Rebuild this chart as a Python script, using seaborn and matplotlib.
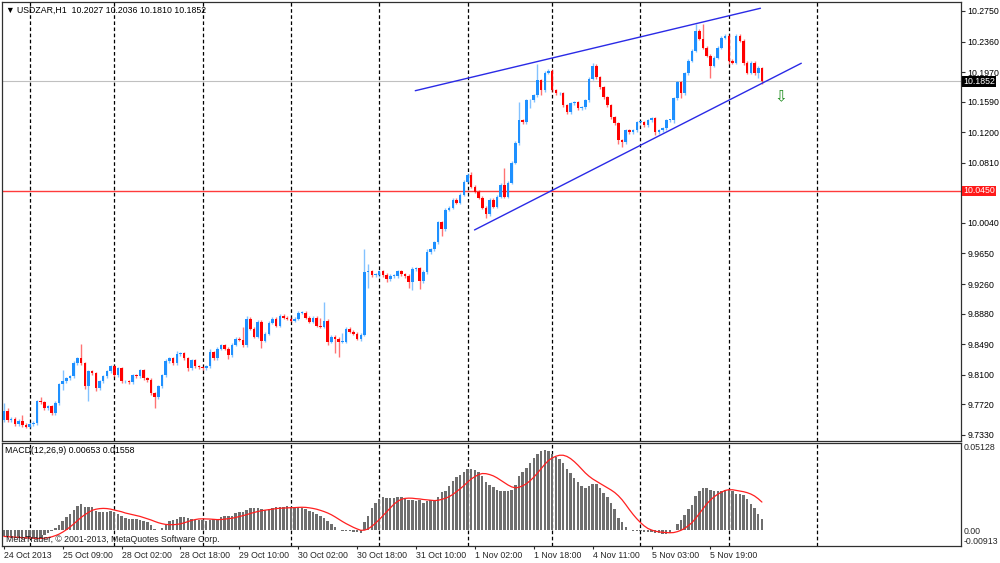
import numpy as np
import pandas as pd
import matplotlib
matplotlib.use("Agg")
import matplotlib.pyplot as plt
import matplotlib.transforms as mtransforms
import seaborn as sns

# USDZAR H1 closes, 24 Oct 2013 17:00 .. 6 Nov 2013 09:00
close = [
    9.7636, 9.7522, 9.7535, 9.7471, 9.7509, 9.7458, 9.7433, 9.7471, 9.7484, 9.7763,
    9.7750, 9.7674, 9.7699, 9.7611, 9.7738, 9.7979, 9.8017, 9.8055, 9.8080, 9.8245,
    9.8309, 9.8245, 9.7953, 9.8144, 9.8118, 9.7928, 9.8017, 9.8080, 9.8144, 9.8207,
    9.8093, 9.8182, 9.8017, 9.8017, 9.8004, 9.8093, 9.8080, 9.8156, 9.8055, 9.8029,
    9.7864, 9.7814, 9.7953, 9.8093, 9.8271, 9.8309, 9.8245, 9.8359, 9.8372, 9.8309,
    9.8182, 9.8283, 9.8207, 9.8194, 9.8182, 9.8207, 9.8385, 9.8309, 9.8435, 9.8474,
    9.8435, 9.8347, 9.8486, 9.8562, 9.8550, 9.8474, 9.8816, 9.8689, 9.8588, 9.8778,
    9.8537, 9.8626, 9.8765, 9.8816, 9.8727, 9.8854, 9.8829, 9.8816, 9.8791, 9.8816,
    9.8892, 9.8892, 9.8829, 9.8778, 9.8829, 9.8727, 9.8715, 9.8791, 9.8524, 9.8588,
    9.8562, 9.8524, 9.8524, 9.8689, 9.8651, 9.8626, 9.8562, 9.8613, 9.9413, 9.9425,
    9.9375, 9.9375, 9.9425, 9.9375, 9.9324, 9.9362, 9.9362, 9.9425, 9.9387, 9.9362,
    9.9286, 9.9451, 9.9463, 9.9298, 9.9413, 9.9666, 9.9704, 9.9793, 10.0047, 9.9958,
    10.0212, 10.0237, 10.0339, 10.0301, 10.0402, 10.0567, 10.0656, 10.0504, 10.0441, 10.0364,
    10.0237, 10.0149, 10.0339, 10.0250, 10.0377, 10.0529, 10.0377, 10.0555, 10.0809, 10.1062,
    10.1354, 10.1329, 10.1608, 10.1608, 10.1671, 10.1862, 10.1735, 10.1963, 10.1988, 10.1735,
    10.1697, 10.1697, 10.1545, 10.1456, 10.1570, 10.1583, 10.1506, 10.1519, 10.1608, 10.1887,
    10.2052, 10.1900, 10.1773, 10.1646, 10.1545, 10.1392, 10.1316, 10.1100, 10.1075, 10.1227,
    10.1202, 10.1227, 10.1329, 10.1329, 10.1291, 10.1354, 10.1380, 10.1202, 10.1227, 10.1253,
    10.1354, 10.1354, 10.1633, 10.1836, 10.1697, 10.1951, 10.2116, 10.2242, 10.2496, 10.2395,
    10.2281, 10.2179, 10.2052, 10.2154, 10.2281, 10.2407, 10.2433, 10.2116, 10.2090, 10.2433,
    10.2369, 10.2090, 10.1963, 10.2090, 10.1951, 10.2027, 10.1852,
]
first_open = 9.7520

# wick lengths above / below the body, in units of 0.001
upper_wick = [
    10, 4, 2, 2, 2, 7, 2, 2, 2, 2,
    5, 2, 2, 2, 2, 2, 15, 2, 2, 3,
    2, 19, 2, 2, 2, 2, 2, 2, 2, 2,
    2, 2, 2, 2, 2, 2, 2, 2, 2, 2,
    3, 2, 2, 2, 3, 2, 2, 5, 2, 2,
    2, 2, 2, 2, 2, 2, 4, 2, 2, 2,
    2, 2, 2, 2, 2, 16, 4, 2, 2, 2,
    2, 2, 2, 2, 2, 2, 2, 2, 2, 2,
    2, 2, 2, 2, 2, 2, 10, 24, 2, 2,
    2, 2, 11, 2, 2, 2, 2, 2, 30, 9,
    2, 2, 2, 2, 2, 2, 2, 2, 2, 2,
    2, 2, 2, 2, 2, 4, 2, 2, 2, 2,
    2, 2, 2, 2, 2, 2, 2, 4, 2, 2,
    2, 2, 2, 2, 2, 2, 21, 2, 2, 2,
    23, 2, 2, 2, 2, 21, 2, 2, 2, 2,
    2, 2, 2, 2, 2, 2, 2, 2, 2, 2,
    3, 2, 2, 2, 2, 2, 2, 2, 2, 2,
    2, 2, 2, 2, 2, 2, 2, 2, 2, 2,
    2, 2, 2, 2, 2, 2, 2, 2, 9, 2,
    19, 2, 2, 2, 2, 2, 2, 2, 2, 2,
    2, 2, 2, 2, 2, 2, 1,
]
lower_wick = [
    2, 2, 2, 2, 2, 2, 2, 2, 2, 3,
    2, 2, 2, 2, 2, 3, 8, 2, 2, 2,
    2, 2, 3, 19, 2, 3, 2, 2, 2, 2,
    2, 2, 2, 2, 2, 2, 2, 2, 2, 2,
    2, 14, 2, 2, 2, 2, 2, 2, 2, 2,
    4, 2, 2, 2, 2, 2, 2, 2, 2, 2,
    2, 5, 2, 2, 2, 2, 2, 2, 2, 2,
    10, 2, 2, 2, 2, 2, 2, 2, 2, 2,
    2, 2, 2, 2, 2, 2, 2, 2, 5, 2,
    19, 20, 2, 2, 2, 2, 2, 3, 2, 20,
    2, 2, 2, 2, 4, 2, 2, 2, 2, 2,
    8, 10, 2, 10, 2, 2, 2, 2, 2, 9,
    2, 2, 2, 2, 2, 2, 2, 2, 2, 2,
    2, 5, 2, 2, 2, 2, 2, 2, 2, 2,
    2, 2, 2, 10, 2, 2, 6, 2, 2, 2,
    2, 2, 2, 2, 2, 2, 2, 2, 2, 2,
    2, 2, 2, 2, 2, 2, 2, 5, 6, 2,
    2, 2, 2, 2, 2, 2, 2, 4, 2, 2,
    2, 2, 4, 2, 6, 2, 2, 2, 2, 2,
    2, 2, 16, 2, 2, 2, 2, 4, 2, 2,
    2, 3, 2, 2, 2, 6, 4,
]

# MACD(12,26,9) main line (histogram)
macd = [
    -0.0035, -0.0038, -0.0042, -0.0044, -0.0046, -0.0048, -0.0050, -0.0050, -0.0050, -0.0050,
    -0.0042, -0.0029, -0.0015, -0.0004, 0.0015, 0.0029, 0.0058, 0.0077, 0.0096, 0.0119,
    0.0144, 0.0154, 0.0138, 0.0138, 0.0138, 0.0115, 0.0109, 0.0109, 0.0109, 0.0115,
    0.0109, 0.0096, 0.0086, 0.0073, 0.0067, 0.0067, 0.0067, 0.0061, 0.0054, 0.0048,
    0.0029, 0.0010, 0.0004, 0.0015, 0.0029, 0.0054, 0.0061, 0.0067, 0.0081, 0.0081,
    0.0073, 0.0067, 0.0061, 0.0061, 0.0061, 0.0054, 0.0061, 0.0067, 0.0067, 0.0077,
    0.0086, 0.0086, 0.0086, 0.0100, 0.0106, 0.0106, 0.0119, 0.0131, 0.0131, 0.0134,
    0.0125, 0.0119, 0.0125, 0.0131, 0.0138, 0.0138, 0.0138, 0.0144, 0.0138, 0.0134,
    0.0131, 0.0131, 0.0125, 0.0115, 0.0106, 0.0096, 0.0086, 0.0073, 0.0058, 0.0038,
    0.0019, 0.0000, -0.0004, -0.0006, -0.0006, -0.0010, -0.0010, -0.0015, 0.0048, 0.0086,
    0.0134, 0.0163, 0.0182, 0.0196, 0.0192, 0.0192, 0.0192, 0.0196, 0.0196, 0.0182,
    0.0177, 0.0177, 0.0173, 0.0177, 0.0163, 0.0173, 0.0177, 0.0177, 0.0196, 0.0227,
    0.0234, 0.0259, 0.0292, 0.0313, 0.0323, 0.0342, 0.0361, 0.0363, 0.0353, 0.0340,
    0.0317, 0.0284, 0.0267, 0.0253, 0.0240, 0.0234, 0.0234, 0.0230, 0.0240, 0.0265,
    0.0317, 0.0342, 0.0365, 0.0394, 0.0422, 0.0451, 0.0465, 0.0470, 0.0465, 0.0451,
    0.0432, 0.0419, 0.0394, 0.0361, 0.0336, 0.0307, 0.0284, 0.0259, 0.0246, 0.0259,
    0.0273, 0.0273, 0.0246, 0.0221, 0.0196, 0.0163, 0.0125, 0.0073, 0.0048, 0.0019,
    0.0004, -0.0006, -0.0006, -0.0006, -0.0010, -0.0010, -0.0010, -0.0015, -0.0015, -0.0023,
    -0.0019, -0.0015, 0.0004, 0.0038, 0.0061, 0.0092, 0.0125, 0.0150, 0.0202, 0.0234,
    0.0246, 0.0250, 0.0240, 0.0234, 0.0230, 0.0234, 0.0240, 0.0240, 0.0234, 0.0211,
    0.0215, 0.0207, 0.0182, 0.0157, 0.0131, 0.0096, 0.0065,
]
signal_period = 9

date_labels = ["24 Oct 2013", "25 Oct 09:00", "28 Oct 02:00", "28 Oct 18:00",
               "29 Oct 10:00", "30 Oct 02:00", "30 Oct 18:00", "31 Oct 10:00",
               "1 Nov 02:00", "1 Nov 18:00", "4 Nov 11:00", "5 Nov 03:00",
               "5 Nov 19:00"]
label_step = 16
day_starts = [7, 30, 54, 78, 102, 126, 149, 173, 197, 221]

price_ticks = [10.2750, 10.2360, 10.1970, 10.1590, 10.1200, 10.0810, 10.0040,
               9.9650, 9.9260, 9.8880, 9.8490, 9.8100, 9.7720, 9.7330]
price_range = (9.7253, 10.2865)
macd_range = (-0.00913, 0.05128)
level_price = 10.0450
last_price = 10.1852

upper_trend_bar = [111.8, 205.6]
upper_trend_price = [10.1731, 10.2785]
lower_trend_bar = [127.9, 216.7]
lower_trend_price = [9.9951, 10.2082]
arrow_bar = 211
arrow_price = 10.166

# ---- build the frame
n = len(close)
df = pd.DataFrame({"bar": np.arange(n), "close": close})
df["open"] = [first_open] + close[:-1]
df["high"] = df[["open", "close"]].max(axis=1) + np.array(upper_wick) * 0.001
df["low"] = df[["open", "close"]].min(axis=1) - np.array(lower_wick) * 0.001
df["up"] = df["close"] >= df["open"]
macd_df = pd.DataFrame({"bar": np.arange(n), "macd": macd})
macd_df["signal"] = macd_df["macd"].rolling(signal_period, min_periods=1).mean()

sns.set_theme(style="white")
plt.rcParams["font.family"] = ["Liberation Sans", "DejaVu Sans"]
plt.rcParams["axes.linewidth"] = 0.9
plt.rcParams["axes.edgecolor"] = "#303030"

fig = plt.figure(figsize=(10, 5.63), dpi=100)
H = 563.0
ax1 = fig.add_axes([0.002, 1 - 441 / H, 0.959, (441 - 2) / H])
ax2 = fig.add_axes([0.002, 1 - 546 / H, 0.959, (546 - 443) / H], sharex=ax1)

BLUE = "#1e90ff"
RED = "#ff0000"
colors = np.where(df["up"], BLUE, RED)

# candles
ax1.vlines(df["bar"], df["low"], df["high"], colors=colors, lw=1.0, alpha=0.55, zorder=3)
body_low = df[["open", "close"]].min(axis=1)
body_h = (df["close"] - df["open"]).abs().clip(lower=0.0009)
ax1.bar(df["bar"], body_h, bottom=body_low, width=0.7, color=colors, linewidth=0, zorder=4)

# levels
ax1.axhline(level_price, color="#ff3b3b", lw=1.0, zorder=2)
ax1.axhline(last_price, color="#c0c0c0", lw=0.8, zorder=1)

# trend channel
sns.lineplot(x=upper_trend_bar, y=upper_trend_price, ax=ax1, color="#2a2ae6", lw=1.0, zorder=5)
sns.lineplot(x=lower_trend_bar, y=lower_trend_price, ax=ax1, color="#2a2ae6", lw=1.0, zorder=5)
ax1.text(arrow_bar, arrow_price, "\u21e9", color="#1a8a1a", fontsize=11,
         family="DejaVu Sans", ha="center", va="center", zorder=6)

# day separators
for ax in (ax1, ax2):
    for d in day_starts:
        ax.axvline(d, color="black", lw=0.9, dashes=(2.9, 2.0), zorder=2)

# MACD pane
ax2.bar(macd_df["bar"], macd_df["macd"], width=0.68, color="#6e6e6e", linewidth=0, zorder=3)
sns.lineplot(data=macd_df, x="bar", y="signal", ax=ax2, color="#ff2020", lw=0.9, zorder=4)

ax1.set_xlim(-0.5, 260.1)
ax1.set_ylim(*price_range)
ax2.set_ylim(*macd_range)

ax1.set_yticks(price_ticks)
ax1.set_yticklabels(["%.4f" % p for p in price_ticks])
ax1.yaxis.tick_right()
ax1.tick_params(axis="y", right=True, left=False, length=3, width=0.8, pad=1.5,
                labelsize=6.3, colors="#303030", labelcolor="black")
ax1.tick_params(axis="x", bottom=False, labelbottom=False)

ax2.yaxis.tick_right()
ax2.set_yticks([macd_range[0], 0, macd_range[1]])
ax2.set_yticklabels(["%.5f" % macd_range[0], "0.00", "%.5f" % macd_range[1]])
ax2.tick_params(axis="y", right=True, left=False, length=0, pad=2, labelsize=6.3)
ylabs = ax2.get_yticklabels()
ylabs[0].set_va("bottom")
ylabs[2].set_va("top")

ticks = list(range(0, label_step * len(date_labels), label_step))
ax2.set_xticks(ticks)
ax2.set_xticklabels(date_labels, ha="left")
ax2.tick_params(axis="x", bottom=True, length=2.5, width=0.8, pad=1, labelsize=6.3)

for ax in (ax1, ax2):
    ax.set_xlabel("")
    ax.set_ylabel("")
    ax.grid(False)
    for s in ax.spines.values():
        s.set_visible(True)
        s.set_color("#303030")

# price tags on the scale
tr = mtransforms.blended_transform_factory(ax1.transAxes, ax1.transData)
ax1.text(1.002, last_price, "%.4f" % last_price, transform=tr, fontsize=6.3, color="white",
         ha="left", va="center", clip_on=False, zorder=10,
         bbox=dict(boxstyle="square,pad=0.1", fc="black", ec="none"))
ax1.text(1.002, level_price, "%.4f" % level_price, transform=tr, fontsize=6.3, color="white",
         ha="left", va="center", clip_on=False, zorder=10,
         bbox=dict(boxstyle="square,pad=0.1", fc="#ff1a1a", ec="none"))

ax1.text(0.004, 0.982, "\u25bc USDZAR,H1  10.2027 10.2036 10.1810 10.1852",
         transform=ax1.transAxes, fontsize=6.3, ha="left", va="center", color="black")
ax2.text(0.003, 0.93, "MACD(12,26,9) 0.00653 0.01558", transform=ax2.transAxes,
         fontsize=6.3, ha="left", va="center", color="black", zorder=6)
ax2.text(0.004, 0.06, "MetaTrader, \u00a9 2001-2013, MetaQuotes Software Corp.",
         transform=ax2.transAxes, fontsize=6.3, ha="left", va="center", color="#202020", zorder=6)

fig.savefig("out.png", dpi=100, facecolor="white")
